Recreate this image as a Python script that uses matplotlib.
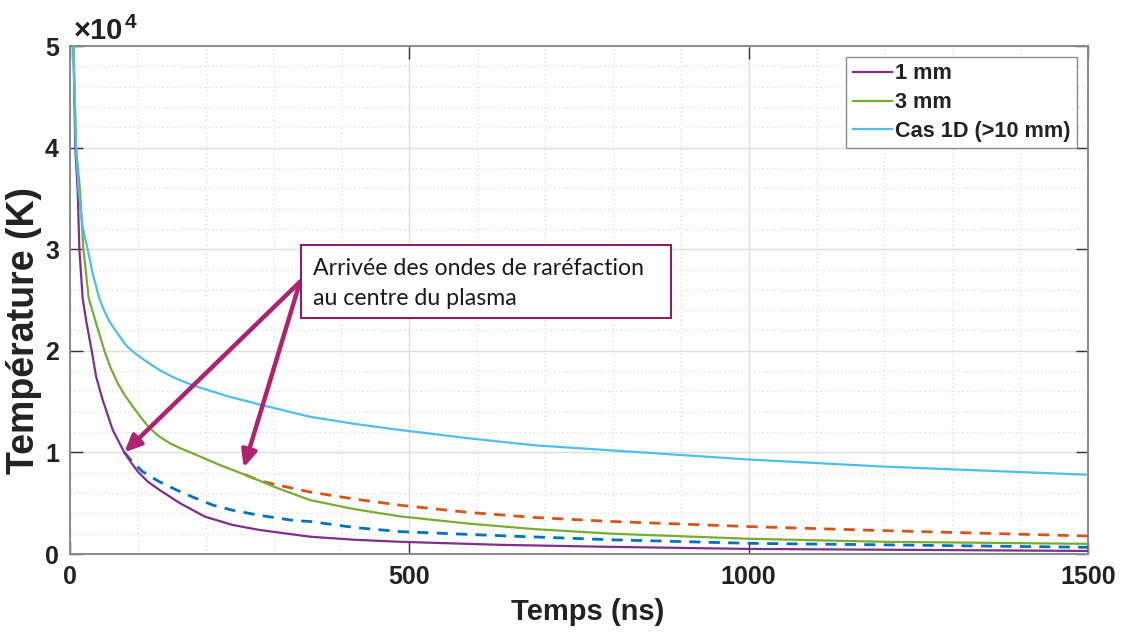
import matplotlib
matplotlib.use("Agg")
import matplotlib.pyplot as plt
from matplotlib.ticker import MultipleLocator, FuncFormatter
from matplotlib.patches import Rectangle

# ---- data ----
t_1mm = [5, 7.8, 11.3, 13.8, 16.2, 18.6, 23.7, 32, 38.5, 48, 63, 80, 90, 100, 115, 132, 162, 199,
         240, 280, 354, 420, 487, 635, 800, 1000, 1500]
T_1mm = [5.0e4, 4.0e4, 3.58e4, 3.0e4, 2.76e4, 2.52e4, 2.3e4, 2.0e4, 1.745e4, 1.52e4, 1.22e4, 1.0e4,
         0.90e4, 0.81e4, 0.71e4, 0.63e4, 0.50e4, 0.367e4, 0.285e4, 0.236e4, 0.17e4, 0.14e4,
         0.12e4, 0.09e4, 0.07e4, 0.05e4, 0.03e4]

t_3mm = [5, 8.9, 14.7, 19.7, 23.7, 27.5, 38.5, 50.7, 60, 70.4, 81, 92.6, 105, 117, 131, 147, 163,
         181, 221, 258, 305, 354, 420, 487, 586, 684, 798, 1000, 1200, 1500]
T_3mm = [5.0e4, 4.0e4, 3.58e4, 3.0e4, 2.76e4, 2.52e4, 2.27e4, 2.0e4, 1.83e4, 1.68e4, 1.56e4,
         1.45e4, 1.34e4, 1.24e4, 1.16e4, 1.09e4, 1.04e4, 0.99e4, 0.875e4, 0.78e4, 0.65e4, 0.53e4,
         0.44e4, 0.37e4, 0.30e4, 0.245e4, 0.20e4, 0.15e4, 0.12e4, 0.10e4]

t_1d = [5, 7.4, 8.9, 12.7, 18.6, 26, 33.4, 43, 50, 58, 70, 83, 95, 105, 118, 132, 155, 181, 231,
        280, 354, 420, 487, 586, 684, 798, 1000, 1200, 1500]
T_1d = [5.0e4, 4.4e4, 4.0e4, 3.58e4, 3.22e4, 3.0e4, 2.76e4, 2.52e4, 2.4e4, 2.29e4, 2.17e4, 2.05e4,
        1.98e4, 1.93e4, 1.87e4, 1.81e4, 1.73e4, 1.66e4, 1.555e4, 1.47e4, 1.35e4, 1.28e4, 1.22e4,
        1.14e4, 1.07e4, 1.02e4, 0.93e4, 0.86e4, 0.78e4]

t_1mm_dash = [80, 93, 107, 132, 157, 181, 211, 240, 280, 329, 354, 420, 487, 635, 798, 1000, 1202,
              1500]
T_1mm_dash = [1.0e4, 0.90e4, 0.81e4, 0.71e4, 0.63e4, 0.56e4, 0.48e4, 0.43e4, 0.38e4, 0.33e4,
              0.32e4, 0.26e4, 0.22e4, 0.18e4, 0.14e4, 0.105e4, 0.09e4, 0.066e4]

t_3mm_dash = [258, 280, 305, 354, 420, 487, 586, 684, 798, 1000, 1200, 1500]
T_3mm_dash = [0.78e4, 0.72e4, 0.68e4, 0.61e4, 0.54e4, 0.48e4, 0.41e4, 0.36e4, 0.32e4, 0.27e4,
              0.23e4, 0.177e4]

labels = ["1 mm", "3 mm", "Cas 1D (>10 mm)"]
x_ticks = [0, 500, 1000, 1500]
y_ticks = [0, 1e4, 2e4, 3e4, 4e4, 5e4]

# ---- figure ----
fig = plt.figure(figsize=(11.24, 6.39), dpi=100)
ax = fig.add_axes([70/1124, (639-554)/639, 1018/1124, 508/639])

purple, green, cyan = "#7E2F8E", "#77AC30", "#4DBEEE"
blue, orange = "#0072BD", "#D95319"

ax.plot(t_1mm_dash, T_1mm_dash, color=blue, lw=2.0, ls=(0, (4, 3)), zorder=3)
ax.plot(t_3mm_dash, T_3mm_dash, color=orange, lw=2.0, ls=(0, (4, 3)), zorder=3)
l1, = ax.plot(t_1mm, T_1mm, color=purple, lw=1.6, zorder=4)
l2, = ax.plot(t_3mm, T_3mm, color=green, lw=1.6, zorder=4)
l3, = ax.plot(t_1d, T_1d, color=cyan, lw=1.6, zorder=4)

ax.set_xlim(0, 1500)
ax.set_ylim(0, 5e4)
ax.set_xticks(x_ticks)
ax.set_yticks(y_ticks)
ax.xaxis.set_minor_locator(MultipleLocator(100))
ax.yaxis.set_minor_locator(MultipleLocator(2000))
ax.yaxis.set_major_formatter(FuncFormatter(lambda v, p: f"{v/1e4:g}"))

fontname = "Liberation Sans"
ax.grid(True, which="major", color="#dedede", lw=1.0, zorder=0)
ax.grid(True, which="minor", color="#e2e2e2", lw=1.0, ls=(0, (1, 2)), zorder=0)
ax.set_axisbelow(True)

for s in ax.spines.values():
    s.set_color("#8a8a8a")
    s.set_linewidth(1.4)

ax.tick_params(which="major", direction="in", length=9, width=1.0, color="#333333",
               top=True, right=True, labelsize=18, pad=8)
ax.tick_params(which="minor", length=0)
for lab in ax.get_xticklabels() + ax.get_yticklabels():
    lab.set_fontweight("bold")
    lab.set_fontfamily(fontname)
    lab.set_color("#222222")

ax.set_xlabel("Temps (ns)", fontsize=21, fontweight="bold", family=fontname,
              color="#222222")
ax.xaxis.set_label_coords((588 - 70) / 1018, -(598 - 554) / 508)
ax.xaxis.label.set_va("top")
ax.set_ylabel("Température (K)", fontsize=27, fontweight="bold", family=fontname,
              color="#222222")
ax.yaxis.label.set_va("center")
ax.yaxis.set_label_coords(-(70 - 24) / 1018, (554 - 330) / 508)

# exponent marker
fig.text(74/1124, 1 - 39/639, "×10", fontsize=21, fontweight="bold", family=fontname,
         color="#222222", ha="left", va="baseline")
fig.text(125/1124, 1 - 28/639, "4", fontsize=15, fontweight="bold", family=fontname,
         color="#222222", ha="left", va="baseline")

leg = ax.legend([l1, l2, l3], labels, loc="upper right",
                prop={"family": fontname, "weight": "bold", "size": 15.6},
                handlelength=1.8, handletextpad=0.15, labelspacing=0.36,
                borderaxespad=0.5, borderpad=0.3, fancybox=False, framealpha=1)
leg.get_frame().set_edgecolor("#8a8a8a")
leg.get_frame().set_linewidth(1.0)
for txt in leg.get_texts():
    txt.set_color("#222222")

# annotation box and arrows
box_col = "#8B1F64"
arrow_col = "#B0226F"
ax.add_patch(Rectangle((341, 2.32e4), 544, 0.72e4, fill=True, facecolor="white",
                       edgecolor=box_col, lw=1.5, zorder=6))
ax.text(358, 2.66e4, "Arrivée des ondes de raréfaction\nau centre du plasma",
        fontsize=16.7, family="Lato", color="#1a1a1a", va="center", ha="left",
        linespacing=1.5, zorder=7)
for tip in [(80, 1.0e4), (256, 0.85e4)]:
    ax.annotate("", xy=tip, xytext=(339, 2.68e4),
                arrowprops=dict(arrowstyle="-|>,head_length=1.0,head_width=0.45",
                                color=arrow_col, lw=3.2, shrinkA=0, shrinkB=0),
                zorder=5)

fig.savefig("out.png", dpi=100)
